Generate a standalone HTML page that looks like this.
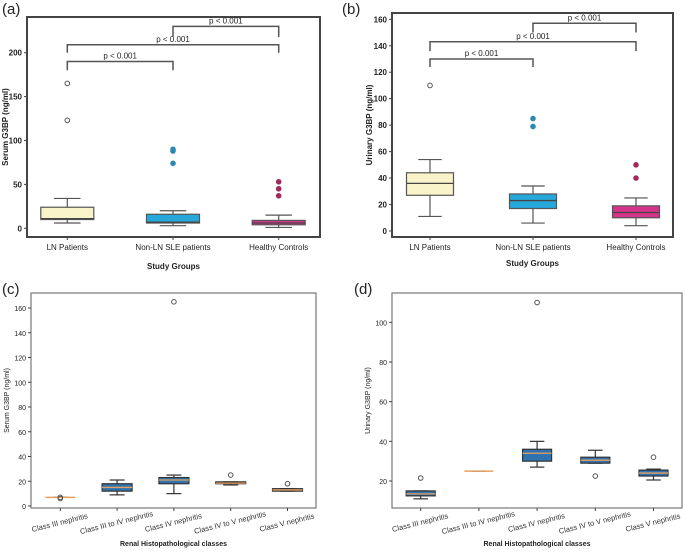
<!DOCTYPE html>
<html><head><meta charset="utf-8"><style>
body{margin:0;background:#fff;}
svg{display:block;font-family:"Liberation Sans","DejaVu Sans",sans-serif;}
</style></head><body>
<svg id="fig" width="685" height="558" viewBox="0 0 685 558" xmlns="http://www.w3.org/2000/svg"></svg>
<script>
// ---- Panel (a) data: Serum G3BP by study group
const catsA = ["LN Patients","Non-LN SLE patients","Healthy Controls"];
const whiskLoA = [6, 3, 1];
const q1A = [10, 6, 4];
const medA = [11, 7, 6];
const q3A = [24, 16, 9];
const whiskHiA = [34, 20, 15];
const outA = [[123,165],[74,88,90],[37,45,53]];
const ticksA = [0,50,100,150,200];
// ---- Panel (b) data: Urinary G3BP by study group
const catsB = ["LN Patients","Non-LN SLE patients","Healthy Controls"];
const whiskLoB = [11, 6, 4];
const q1B = [27, 17, 10];
const medB = [36, 23, 14];
const q3B = [44, 28, 19];
const whiskHiB = [54, 34, 25];
const outB = [[110],[79,85],[40,50]];
const ticksB = [0,20,40,60,80,100,120,140,160];
// ---- Panel (c) data: Serum G3BP by renal class
const catsC = ["Class III nephritis","Class III to IV nephritis","Class IV nephritis","Class IV to V nephritis","Class V nephritis"];
const whiskLoC = [7, 9, 10, 17, 12];
const q1C = [7, 12, 18, 18, 12];
const medC = [7, 15, 21, 18.5, 13];
const q3C = [7, 18, 23, 19.5, 14];
const whiskHiC = [7, 21, 25, 19.5, 14];
const outC = [[6,7],[],[165],[25],[18]];
const ticksC = [0,20,40,60,80,100,120,140,160];
// ---- Panel (d) data: Urinary G3BP by renal class
const catsD = catsC;
const whiskLoD = [11, 25, 27, 29, 20.5];
const q1D = [12.5, 25, 30, 29, 22.5];
const medD = [13.5, 25, 34, 30.5, 24];
const q3D = [15, 25, 36, 32, 25.5];
const whiskHiD = [15, 25, 40, 35.5, 26];
const outD = [[21.5],[],[110],[22.5],[32]];
const ticksD = [20,40,60,80,100];
// brackets (value levels)
const bracketsA = [[0,1,190,180],[0,2,209,200],[1,2,230,218]];
const bracketsB = [[0,1,130,124],[0,2,143,136],[1,2,157,150]];

const NS="http://www.w3.org/2000/svg";
const svg=document.getElementById('fig');
function el(tag,attrs,parent,text){const e=document.createElementNS(NS,tag);for(const k in attrs)e.setAttribute(k,attrs[k]);if(text!==undefined)e.textContent=text;(parent||svg).appendChild(e);return e;}

function panel(cfg){
  const g=el('g',{});
  
  
  const y=v=>cfg.y0px-(v-cfg.v0)*cfg.k;
  const x=i=>cfg.xs[0]+i*(cfg.xs[1]-cfg.xs[0]);
  const fr=el('rect',{x:cfg.fx,y:cfg.fy,width:cfg.fw,height:cfg.fh,fill:'none',stroke:cfg.bold?'#444':'#777','stroke-width':cfg.bold?2:1.2},g);
  
  
  const pl=el('text',{x:cfg.lx,y:cfg.ly,'font-size':15,fill:'#222'},g,cfg.letter);
  
  
  cfg.ticks.forEach(t=>{
    el('line',{x1:cfg.fx-3,x2:cfg.fx,y1:y(t),y2:y(t),stroke:'#444'},g);
    const tl=el('text',{x:cfg.fx-5,y:y(t)+3,'font-size':cfg.bold?8:7,'text-anchor':'end',fill:'#222','font-weight':cfg.bold?'bold':'normal'},g,t);
    
    
  });
  cfg.cats.forEach((c,i)=>{
    const cx=x(i);
    el('line',{x1:cx,x2:cx,y1:cfg.fy+cfg.fh,y2:cfg.fy+cfg.fh+3,stroke:'#444'},g);
    let lab;
    if(cfg.rot){
      const ty=cfg.fy+cfg.fh+17;
      lab=el('text',{x:cx,y:ty,'font-size':7.5,'text-anchor':'middle',fill:'#333',transform:`rotate(-14 ${cx} ${ty})`},g,c);
    } else {
      lab=el('text',{x:cx,y:cfg.fy+cfg.fh+13,'font-size':8,'text-anchor':'middle',fill:'#222'},g,c);
    }
    
    
    const col=cfg.colors[i];
    const bw=cfg.bw, lc=cfg.lineCol;
    const wl=el('line',{x1:cx,x2:cx,y1:y(cfg.lo[i]),y2:y(cfg.hi[i]),stroke:lc,'stroke-width':1.2},g);
    
    
    el('line',{x1:cx-bw/4,x2:cx+bw/4,y1:y(cfg.lo[i]),y2:y(cfg.lo[i]),stroke:lc,'stroke-width':1.2},g);
    el('line',{x1:cx-bw/4,x2:cx+bw/4,y1:y(cfg.hi[i]),y2:y(cfg.hi[i]),stroke:lc,'stroke-width':1.2},g);
    const h=Math.max(0.5,y(cfg.q1[i])-y(cfg.q3[i]));
    if(cfg.q3[i]>cfg.q1[i]){
      const b=el('rect',{x:cx-bw/2,y:y(cfg.q3[i]),width:bw,height:h,fill:col,stroke:lc,'stroke-width':1.2},g);
      
      
    }
    const m=el('line',{x1:cx-bw/2,x2:cx+bw/2,y1:y(cfg.med[i]),y2:y(cfg.med[i]),stroke:cfg.medCol,'stroke-width':cfg.q3[i]>cfg.q1[i]?1.3:1.5},g);
    
    
    cfg.out[i].forEach(v=>{
      const f=cfg.filled&&cfg.filled[i];
      const o=el('circle',{cx:cx,cy:y(v),r:2.3,fill:f?f:'none',stroke:f?f:'#555','stroke-width':1},g);
      
      
    });
  });
  (cfg.brackets||[]).forEach(b=>{
    const x1=x(b[0]),x2=x(b[1]),yt=y(b[2]),yl=y(b[3]);
    const p=el('path',{d:`M${x1} ${yl}V${yt}H${x2}V${yl}`,fill:'none',stroke:'#555','stroke-width':1.5},g);
    
    
    const t=el('text',{x:(x1+x2)/2,y:yt-3,'font-size':8,'text-anchor':'middle',fill:'#222'},g,'p < 0.001');
    
    
  });
  const yt=el('text',{x:cfg.ytx,y:cfg.fy+cfg.fh/2,'font-size':cfg.bold?8:7,'text-anchor':'middle',fill:'#222','font-weight':cfg.bold?'bold':'normal',transform:`rotate(-90 ${cfg.ytx} ${cfg.fy+cfg.fh/2})`},g,cfg.ytitle);
  
  
  const xt=el('text',{x:cfg.fx+cfg.fw/2,y:cfg.xty,'font-size':cfg.bold?8:7,'text-anchor':'middle',fill:'#222','font-weight':'bold'},g,cfg.xtitle);
  
  
}

const topCols=['#f8f3c8','#27a8db','#d6348a'];
panel({name:'panel-a-serum',letter:'(a)',lx:2,ly:14,fx:27,fy:17,fw:293,fh:220,y0px:228.3,v0:0,k:0.878,xs:[67.3,173],
  ticks:ticksA,cats:catsA,lo:whiskLoA,q1:q1A,med:medA,q3:q3A,hi:whiskHiA,out:outA,colors:topCols,bw:53,lineCol:'#555',medCol:'#444',
  filled:[null,'#2b8ab0','#a3285e'],brackets:bracketsA,bold:true,ytx:8,ytitle:'Serum G3BP (ng/ml)',xty:269,xtitle:'Study Groups'});
panel({name:'panel-b-urinary',letter:'(b)',lx:342,ly:14,fx:392,fy:13,fw:281,fh:224,y0px:231,v0:0,k:1.323,xs:[430,533],
  ticks:ticksB,cats:catsB,lo:whiskLoB,q1:q1B,med:medB,q3:q3B,hi:whiskHiB,out:outB,colors:topCols,bw:47,lineCol:'#555',medCol:'#444',
  filled:[null,'#2b8ab0','#a3285e'],brackets:bracketsB,bold:true,ytx:372,ytitle:'Urinary G3BP (ng/ml)',xty:266,xtitle:'Study Groups'});
const botCols=['#2f74b0','#2f74b0','#2f74b0','#2f74b0','#2f74b0'];
panel({name:'panel-c-serum-class',letter:'(c)',lx:2,ly:294,fx:31,fy:293,fw:285,fh:215,y0px:506,v0:0,k:1.2375,xs:[60.3,117.1],
  ticks:ticksC,cats:catsC,lo:whiskLoC,q1:q1C,med:medC,q3:q3C,hi:whiskHiC,out:outC,colors:botCols,bw:30,lineCol:'#333',medCol:'#e8a060',
  rot:true,ytx:9,ytitle:'Serum G3BP (ng/ml)',xty:546,xtitle:'Renal Histopathological classes'});
panel({name:'panel-d-urinary-class',letter:'(d)',lx:354,ly:294,fx:392,fy:293,fw:290,fh:215,y0px:481,v0:20,k:1.983,xs:[420.7,478.9],
  ticks:ticksD,cats:catsD,lo:whiskLoD,q1:q1D,med:medD,q3:q3D,hi:whiskHiD,out:outD,colors:botCols,bw:29,lineCol:'#333',medCol:'#e8a060',
  rot:true,ytx:370,ytitle:'Urinary G3BP (ng/ml)',xty:546,xtitle:'Renal Histopathological classes'});
</script>
</body></html>
